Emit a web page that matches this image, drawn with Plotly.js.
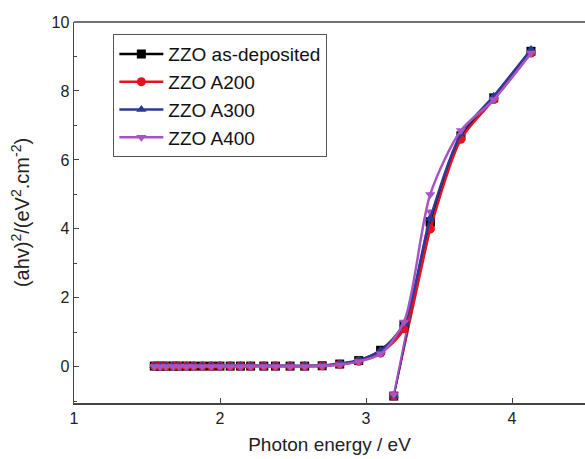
<!DOCTYPE html>
<html><head><meta charset="utf-8">
<script src="https://cdn.plot.ly/plotly-3.0.1.min.js"></script>
<style>html,body{margin:0;padding:0;background:#fff}#c{width:585px;height:459px}</style>
</head><body><div id="c"></div>
<script>
var energy = [1.55,1.59,1.63,1.68,1.72,1.77,1.82,1.88,1.94,2.00,2.07,2.14,2.21,2.30,2.38,2.48,2.58,2.70,2.82,2.95,3.10,3.26,3.44,3.65,3.875,4.13];
var asDeposited = [0.02,0.02,0.02,0.02,0.02,0.02,0.02,0.02,0.02,0.02,0.02,0.02,0.02,0.02,0.02,0.02,0.02,0.03,0.08,0.18,0.48,1.2,4.2,6.7,7.8,9.15];
var a200 = [0.02,0.02,0.02,0.02,0.02,0.02,0.02,0.02,0.02,0.02,0.02,0.02,0.02,0.02,0.02,0.02,0.02,0.03,0.07,0.16,0.40,1.1,4.0,6.6,7.75,9.1];
var a300 = [0.03,0.03,0.03,0.03,0.03,0.03,0.03,0.03,0.03,0.03,0.03,0.03,0.03,0.03,0.03,0.03,0.03,0.04,0.09,0.19,0.47,1.25,4.3,6.75,7.85,9.2];
var a400 = [0.01,0.01,0.01,0.01,0.01,0.01,0.01,0.01,0.01,0.01,0.01,0.01,0.01,0.01,0.01,0.01,0.01,0.02,0.06,0.15,0.38,1.3,5.0,6.85,7.75,9.1];
var tangentX = [3.19, 3.44];
var tangentAsDep = [-0.85, 4.2];
var tangentA200 = [-0.85, 4.0];
var tangentA300 = [-0.85, 4.3];
var tangentA400 = [-0.8, 4.5];
var names = ['ZZO as-deposited','ZZO A200','ZZO A300','ZZO A400'];
var colors = ['#000000','#e3141e','#2b3a98','#a855c4'];
var symbols = ['square','circle','triangle-up','triangle-down'];
var series = [asDeposited,a200,a300,a400];
var tangents = [tangentAsDep,tangentA200,tangentA300,tangentA400];
var traces = [];
for (var i=0;i<4;i++){
  traces.push({x:tangentX,y:tangents[i],mode:'lines+markers',showlegend:false,
    line:{color:colors[i],width:1.8},marker:{symbol:symbols[i],size:9,color:colors[i]}});
}
for (var i=0;i<4;i++){
  traces.push({x:energy,y:series[i],name:names[i],mode:'lines+markers',
    line:{color:colors[i],width:2.5,shape:'spline',smoothing:0.8},
    marker:{symbol:symbols[i],size:9,color:colors[i]}});
}
var layout = {
  width:585,height:459,
  margin:{l:74,r:0,t:22,b:56},
  paper_bgcolor:'#fff',plot_bgcolor:'#fff',
  font:{family:'Liberation Sans, Arial, sans-serif',color:'#222',size:16},
  showlegend:true,
  legend:{x:0.077,y:0.968,xanchor:'left',yanchor:'top',bgcolor:'#fff',bordercolor:'#555',borderwidth:1,
    font:{size:19,color:'#111'},tracegroupgap:0,itemwidth:44},
  xaxis:{range:[1,4.5],tickvals:[1,2,3,4],ticks:'inside',ticklen:5,tickcolor:'#444',
    showline:true,linecolor:'#444',linewidth:1.5,showgrid:false,zeroline:false,
    tickfont:{size:16,color:'#222'},
    title:{text:'Photon energy / eV',font:{size:19,color:'#222'},standoff:12}},
  yaxis:{range:[-1.05,10],tickvals:[0,2,4,6,8,10],ticks:'inside',ticklen:5,tickcolor:'#444',
    minor:{tickvals:[-1,1,3,5,7,9],ticks:'inside',ticklen:3,tickcolor:'#444'},
    showline:true,linecolor:'#444',linewidth:1.5,showgrid:false,zeroline:false,
    tickfont:{size:16,color:'#222'},
    title:{text:'(ahv)<sup>2</sup>/(eV<sup>2</sup>.cm<sup>-2</sup>)',font:{size:20,color:'#222'},standoff:16}},
  shapes:[{type:'line',xref:'paper',yref:'paper',x0:0,x1:1,y0:1,y1:1,line:{color:'#444',width:1.5}}]
};
Plotly.newPlot('c',traces,layout,{displayModeBar:false,staticPlot:true});
</script></body></html>
